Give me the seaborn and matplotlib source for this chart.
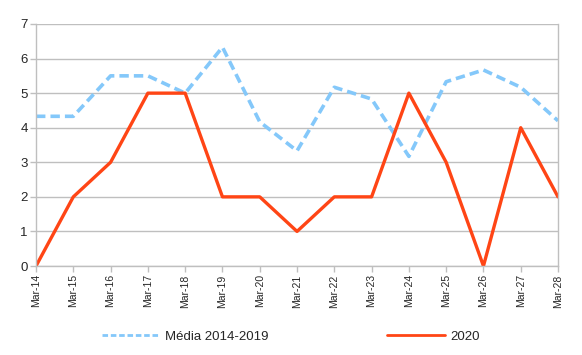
import matplotlib
matplotlib.use("Agg")
import matplotlib.pyplot as plt
import seaborn as sns
import pandas as pd
from matplotlib.lines import Line2D

dates = ["Mar-14", "Mar-15", "Mar-16", "Mar-17", "Mar-18", "Mar-19", "Mar-20", "Mar-21",
         "Mar-22", "Mar-23", "Mar-24", "Mar-25", "Mar-26", "Mar-27", "Mar-28"]
media = [4.33, 4.33, 5.5, 5.5, 5.0, 6.33, 4.17, 3.33, 5.17, 4.83, 3.17, 5.33, 5.67, 5.17, 4.2]
y2020 = [0, 2, 3, 5, 5, 2, 2, 1, 2, 2, 5, 3, 0, 4, 2]
series_names = ["Média 2014-2019", "2020"]
y_ticks = [0, 1, 2, 3, 4, 5, 6, 7]

sns.set_style("white")
plt.rcParams['font.family'] = ['Liberation Sans', 'DejaVu Sans']

df = pd.DataFrame({
    "x": list(range(len(dates))) * 2,
    "value": media + y2020,
    "series": [series_names[0]] * len(dates) + [series_names[1]] * len(dates),
})

fig = plt.figure(figsize=(5.82, 3.55), dpi=100)
ax = fig.add_axes([0.0619, 0.2507, 0.8969, 0.6817])

blue = "#84C8FA"
red = "#FF4515"

sns.lineplot(data=df[df.series == series_names[0]], x="x", y="value", ax=ax,
             color=blue, lw=2.6, linestyle=(0, (2.6, 1.4)), legend=False)
sns.lineplot(data=df[df.series == series_names[1]], x="x", y="value", ax=ax,
             color=red, lw=2.4, legend=False)

ax.set_xlim(0, len(dates) - 1)
ax.set_ylim(0, 7)
ax.set_yticks(y_ticks)
ax.set_yticklabels([str(t) for t in y_ticks], fontsize=9.5)
ax.set_xticks(range(len(dates)))
ax.set_xticklabels(dates, rotation=90, fontsize=7.5)
ax.set_xlabel("")
ax.set_ylabel("")
ax.grid(axis="y", color="#BFBFBF", lw=1)
ax.set_axisbelow(True)
for s in ["left", "right", "top", "bottom"]:
    ax.spines[s].set_color("#BFBFBF")
    ax.spines[s].set_linewidth(1)
ax.spines["top"].set_visible(False)
ax.tick_params(axis="both", length=4, color="#BFBFBF", width=1, pad=2, left=True, bottom=True)

handles = [Line2D([], [], color=blue, lw=2.0, linestyle=(0, (2, 1))),
           Line2D([], [], color=red, lw=2.0)]
fig.legend(handles, series_names, loc="center", bbox_to_anchor=(0.5, 0.052), ncol=2,
           frameon=False, fontsize=9.5, handlelength=4.4, columnspacing=9, handletextpad=0.4)

fig.savefig("out.png", dpi=100)
